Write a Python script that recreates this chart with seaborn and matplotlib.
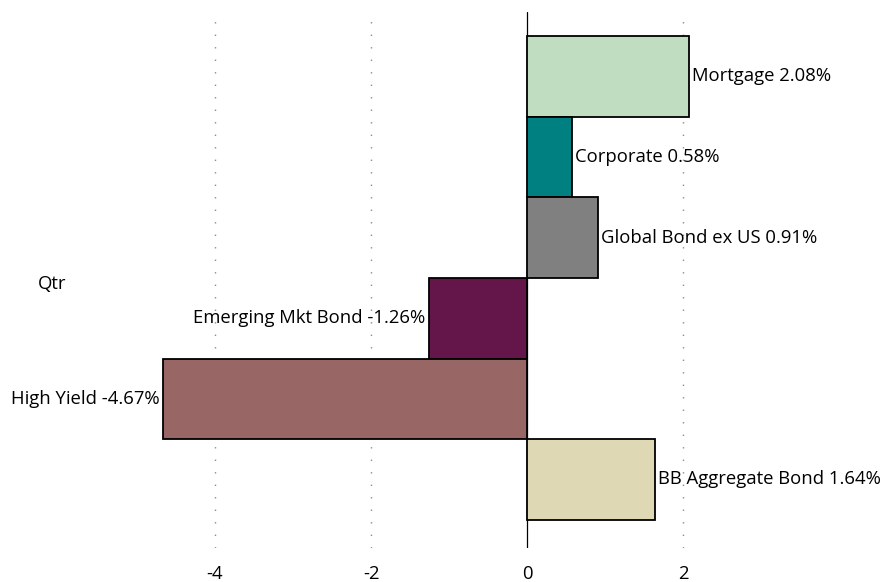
import matplotlib
matplotlib.use("Agg")
import matplotlib.pyplot as plt
import seaborn as sns
import pandas as pd

categories = ["Mortgage", "Corporate", "Global Bond ex US", "Emerging Mkt Bond",
              "High Yield", "BB Aggregate Bond"]
values = [2.08, 0.58, 0.91, -1.26, -4.67, 1.64]
colors = ["#C1DDC1", "#008080", "#808080", "#64154A", "#996666", "#DED8B4"]
x_ticks = [-4, -2, 0, 2]
group_label = "Qtr"

sns.set_theme(style="white")
plt.rcParams["font.family"] = ["Open Sans", "DejaVu Sans"]

FS = 13.3

df = pd.DataFrame({"name": categories, "value": values})

fig = plt.figure(figsize=(8.82, 5.82), dpi=100)
ax = fig.add_axes([59 / 882, 1 - 548 / 582, 780 / 882, 536 / 582])

sns.barplot(data=df, x="value", y="name", hue="name", palette=colors,
            orient="h", width=1.0, edgecolor="black", linewidth=1.3,
            saturation=1, legend=False, ax=ax, order=categories)

ax.set_xlim(-6, 4)
ax.set_ylim(5.85, -0.8)

# dotted vertical gridlines and solid zero line
for t in x_ticks:
    if t == 0:
        ax.axvline(0, color="black", lw=0.9, zorder=0.5)
    else:
        ax.axvline(t, color="#8C8C8C", lw=1.0, ls=(0, (1, 8)), zorder=0.5)

for sp in ax.spines.values():
    sp.set_visible(False)

ax.set_yticks([])
ax.set_xticks(x_ticks)
ax.set_xticklabels([str(t) for t in x_ticks], fontsize=FS)
ax.tick_params(axis="x", length=0, pad=12, colors="black")
ax.set_xlabel("")
ax.set_ylabel("")

for i, (name, v) in enumerate(zip(categories, values)):
    label = f"{name} {v:.2f}%"
    if v >= 0:
        ax.text(v + 0.04, i, label, ha="left", va="center", fontsize=FS,
                color="black", clip_on=False)
    else:
        ax.text(v - 0.04, i, label, ha="right", va="center", fontsize=FS,
                color="black", clip_on=False)

fig.text(38 / 882, 1 - 284 / 582, group_label, ha="left", va="center",
         fontsize=FS, color="black")

fig.savefig("out.png", dpi=100)
